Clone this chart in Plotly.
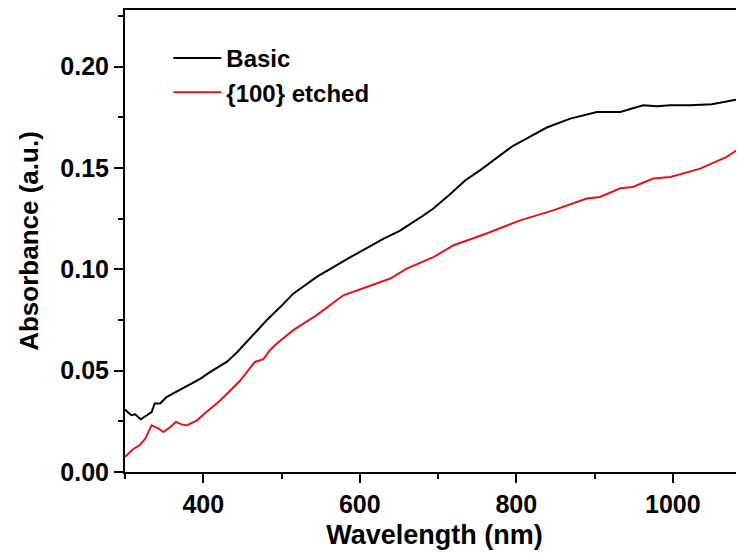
import plotly.graph_objects as go

basic_wl = [300, 308, 313, 320, 328, 334, 338, 345, 353, 370, 387, 396, 409, 430, 443, 460, 481,
            500, 515, 545, 588, 630, 651, 677, 694, 715, 735, 754, 775, 796, 820, 839, 869, 903,
            933, 950, 962, 980, 997, 1022, 1050, 1077, 1091]
basic_abs = [0.0308, 0.028, 0.0285, 0.026, 0.028, 0.0296, 0.0338, 0.0338, 0.037, 0.0407, 0.0444,
             0.046, 0.0494, 0.0543, 0.059, 0.066, 0.0749, 0.082, 0.088, 0.0963, 0.106, 0.115,
             0.119, 0.1255, 0.130, 0.137, 0.144, 0.149, 0.155, 0.161, 0.166, 0.170, 0.1744,
             0.1777, 0.1777, 0.1795, 0.181, 0.1805, 0.181, 0.181, 0.1815, 0.1835, 0.1843]

etched_wl = [300, 311, 319, 326, 334, 343, 349, 358, 365, 372, 379, 392, 404, 421, 447, 466, 477,
             485, 494, 515, 545, 579, 609, 639, 660, 677, 694, 720, 762, 805, 847, 890, 907, 933,
             949, 975, 997, 1035, 1069, 1091]
etched_abs = [0.0074, 0.0115, 0.0132, 0.0165, 0.023, 0.0214, 0.0197, 0.0222, 0.0247, 0.0235,
              0.023, 0.0255, 0.0296, 0.035, 0.045, 0.0543, 0.0557, 0.060, 0.0634, 0.070, 0.0774,
              0.0872, 0.0913, 0.0955, 0.1004, 0.103, 0.106, 0.1119, 0.1177, 0.1242, 0.1291,
              0.135, 0.1357, 0.140, 0.1407, 0.1448, 0.1456, 0.1497, 0.1555, 0.1613]

FONT = "Liberation Sans, Arial, sans-serif"

fig = go.Figure()
fig.add_trace(go.Scatter(x=basic_wl, y=basic_abs, mode="lines", name="Basic",
                         line=dict(color="black", width=2), legendgroup="a"))
fig.add_trace(go.Scatter(x=etched_wl, y=etched_abs, mode="lines", name="{100} etched",
                         line=dict(color="#e0151b", width=2), legendgroup="b"))

# page body has an 8px margin, so the figure is sized 736x550
fig.update_layout(
    width=736, height=550,
    margin=dict(l=117, r=0, t=2, b=86, autoexpand=False),
    plot_bgcolor="white", paper_bgcolor="white",
    font=dict(family=FONT, size=24, color="black", weight="bold"),
    showlegend=True,
    legend=dict(x=0.07, y=0.944, xanchor="left", yanchor="top",
                bgcolor="rgba(0,0,0,0)", font=dict(size=24, family=FONT, weight="bold"),
                itemwidth=48, tracegroupgap=0),
)
fig.update_xaxes(
    range=[300, 1091], showgrid=False, zeroline=False, automargin=False,
    showline=True, linecolor="black", linewidth=2, mirror=True,
    ticks="outside", ticklen=9, tickwidth=2, tickcolor="black",
    tickvals=[400, 600, 800, 1000],
    tickfont=dict(size=25, family=FONT, weight="bold"),
    minor=dict(ticks="outside", ticklen=5, tickwidth=2, tickcolor="black",
               tickvals=[300, 500, 700, 900]),
    title=dict(text="Wavelength (nm)", font=dict(size=27, family=FONT, weight="bold"), standoff=8),
)
fig.update_yaxes(
    range=[0, 0.228], showgrid=False, zeroline=False, automargin=False,
    showline=True, linecolor="black", linewidth=2, mirror=False,
    ticks="outside", ticklen=9, tickwidth=2, tickcolor="black",
    tickvals=[0, 0.05, 0.10, 0.15, 0.20], tickformat=".2f",
    tickfont=dict(size=25, family=FONT, weight="bold"),
    minor=dict(ticks="outside", ticklen=5, tickwidth=2, tickcolor="black",
               tickvals=[0.025, 0.075, 0.125, 0.175, 0.225]),
    title=dict(text="Absorbance (a.u.)", font=dict(size=26, family=FONT, weight="bold"), standoff=14),
)

fig.write_html("out.html")
